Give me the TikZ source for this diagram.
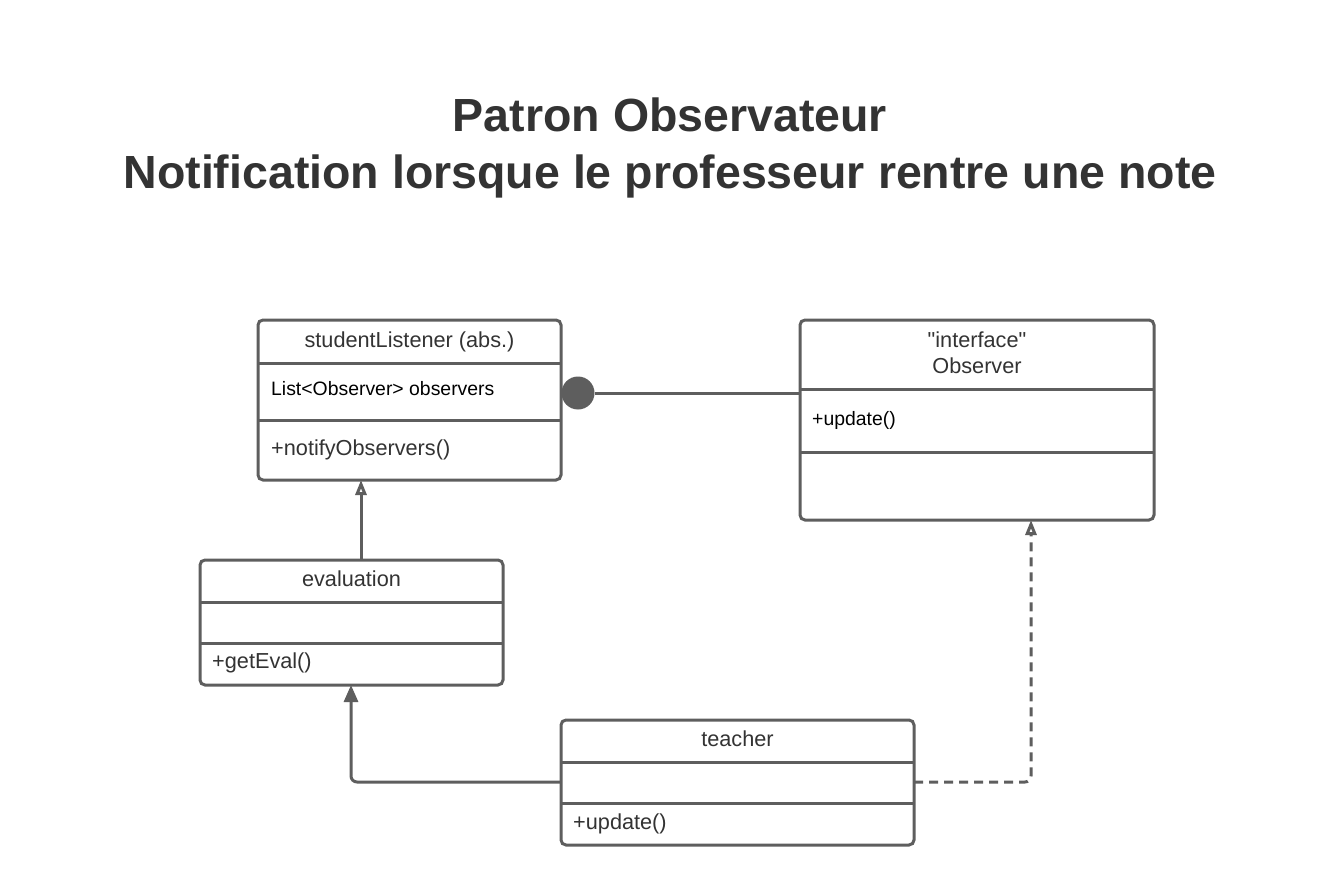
\documentclass[tikz,border=0pt]{standalone}
\usepackage{fontspec}
\setmainfont{Liberation Sans}
\usetikzlibrary{arrows.meta}
\definecolor{ln}{HTML}{5E5E5E}
\definecolor{tx}{HTML}{333333}
\begin{document}
\begin{tikzpicture}[x=1pt,y=-1pt,
  box/.style={draw=ln,line width=3pt,rounded corners=5pt,fill=white},
  sep/.style={draw=ln,line width=3pt},
  conn/.style={draw=ln,line width=3pt},
  ttl/.style={font=\fontsize{21.7}{26}\selectfont,text=tx,inner sep=0pt,anchor=base},
  lbl/.style={font=\fontsize{21.7}{26}\selectfont,text=tx,inner sep=0pt,anchor=base west},
  lblk/.style={font=\fontsize{19.4}{23}\selectfont,text=black,inner sep=0pt,anchor=base west},
  gen/.style={-{Triangle[open,length=15pt,width=11pt,fill=white]}},
  genf/.style={-{Triangle[length=17pt,width=14pt]}}
]
\useasboundingbox (0,0) rectangle (1340,885);
\fill[white] (0,0) rectangle (1340,885);
\node[font=\bfseries\fontsize{46.5}{57}\selectfont,text=tx,align=center,inner sep=0pt] (title) at (670,148)
  {Patron Observateur\\Notification lorsque le professeur rentre une note};

% studentListener
\draw[box] (258,320) rectangle (561,480);
\draw[sep] (258,363) -- (561,363);
\draw[sep] (258,420) -- (561,420);
\node[ttl] (slname) at (409.5,347) {studentListener (abs.)};
\node[lblk] (slattr) at (271,395) {List<Observer> observers};
\node[lbl] (slop) at (271,455) {+notifyObservers()};
\coordinate (slbot) at (361,480);

% Observer
\draw[box] (800,320) rectangle (1154,520);
\draw[sep] (800,389) -- (1154,389);
\draw[sep] (800,452) -- (1154,452);
\node[ttl] (obst) at (977,347) {\textquotedbl interface\textquotedbl};
\node[ttl] (obsn) at (977,373) {Observer};
\node[lblk] (obsop) at (812,425) {+update()};
\coordinate (obsleft) at (800,393);
\coordinate (obsbot) at (1031,520);

% evaluation
\draw[box] (200,560) rectangle (503,685);
\draw[sep] (200,602) -- (503,602);
\draw[sep] (200,643) -- (503,643);
\node[ttl] (evn) at (351.5,586) {evaluation};
\node[lbl] (evop) at (212,668) {+getEval()};
\coordinate (evtop) at (361,560);
\coordinate (evbot) at (351,685);

% teacher
\draw[box] (561,720) rectangle (914,845);
\draw[sep] (561,762) -- (914,762);
\draw[sep] (561,803) -- (914,803);
\node[ttl] (ten) at (737.5,746) {teacher};
\node[lbl] (teop) at (573,829) {+update()};
\coordinate (teleft) at (561,782);
\coordinate (teright) at (914,782);

% connectors
\fill[ln] (578,393) circle (16.5);
\node[inner sep=0pt,minimum size=33pt,circle] (dot) at (578,393) {};
\draw[conn] (dot.east) -- (obsleft);
\draw[conn,gen] (evtop) -- (slbot);
\draw[conn,genf,rounded corners=6pt] (teleft) -| (evbot);
\draw[conn,gen,dash pattern=on 9pt off 6pt,rounded corners=6pt] (teright) -| (obsbot);
\end{tikzpicture}
\end{document}
